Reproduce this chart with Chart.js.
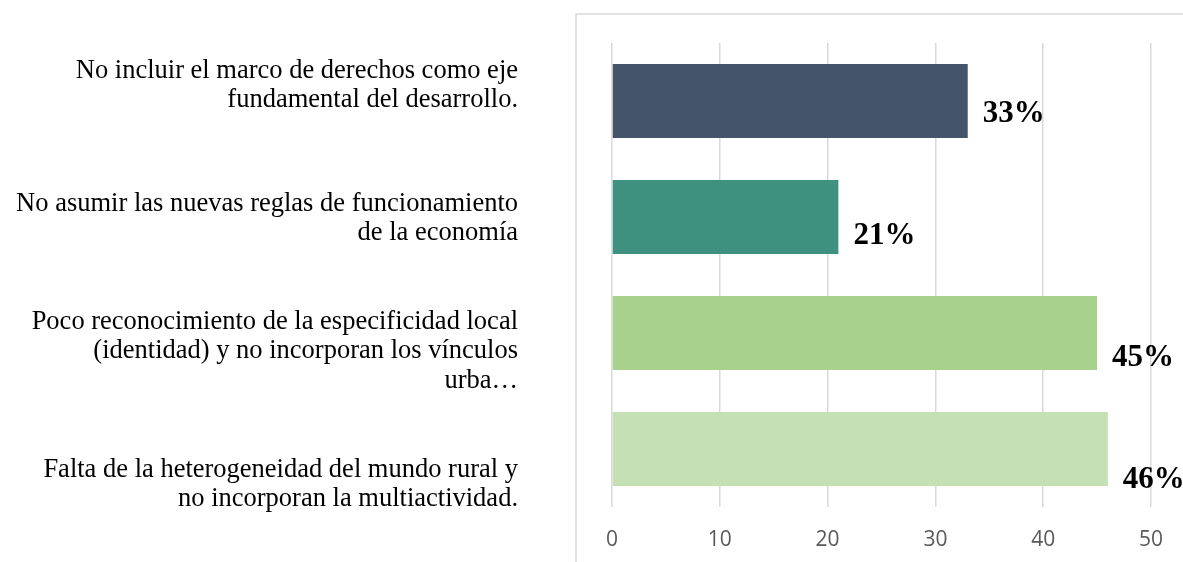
<!DOCTYPE html>
<html>
<head>
<meta charset="utf-8">
<script src="https://cdn.jsdelivr.net/npm/chart.js@4"></script>
<style>
    body { margin: 0; background: #fff; }
    #wrap { width: 1183px; height: 562px; }
</style>
</head>
<body>
<div id="wrap"><canvas id="barChart" width="1183" height="562"></canvas></div>
<script>
// categories (one array of lines per bar, top to bottom)
const categories = [
    ['No incluir el marco de derechos como eje', 'fundamental del desarrollo.'],
    ['No asumir las nuevas reglas de funcionamiento', 'de la economía'],
    ['Poco reconocimiento de la especificidad local', '(identidad) y no incorporan los vínculos', 'urba…'],
    ['Falta de la heterogeneidad del mundo rural y', 'no incorporan la multiactividad.']
];
const values = [33, 21, 45, 46];
const barColors = ['#44546A', '#3F917F', '#A9D18E', '#C5E0B4'];
const xTicks = [0, 10, 20, 30, 40, 50];

const serif = '"Liberation Serif", "Times New Roman", serif';

// light grey frame around the plot, open to the right and bottom like the original
const framePlugin = {
    id: 'frame',
    beforeDraw: (chart) => {
        const { ctx, chartArea } = chart;
        const left = chartArea.left - 36;
        const top = chartArea.top - 29;
        ctx.save();
        ctx.strokeStyle = '#d9d9d9';
        ctx.lineWidth = 1.5;
        ctx.beginPath();
        ctx.moveTo(left, chart.height + 2);
        ctx.lineTo(left, top);
        ctx.lineTo(chart.width + 2, top);
        ctx.stroke();
        ctx.restore();
    }
};

// category text on the left and bold percentages next to the bars
const labelsPlugin = {
    id: 'labels',
    afterDatasetsDraw: (chart) => {
        const { ctx } = chart;
        const meta = chart.getDatasetMeta(0);
        const n = meta.data.length;
        ctx.save();

        ctx.fillStyle = '#000';
        ctx.font = '26.5px ' + serif;
        ctx.textAlign = 'right';
        ctx.textBaseline = 'middle';
        const lineH = 29.3;
        meta.data.forEach((bar, i) => {
            const lines = categories[i];
            const mid = bar.y + 10 + (i - (n - 1) / 2) * 17;
            const start = mid - (lines.length - 1) * lineH / 2;
            lines.forEach((line, j) => {
                ctx.fillText(line, 518, start + j * lineH);
            });
        });

        ctx.font = 'bold 31px ' + serif;
        ctx.textAlign = 'left';
        ctx.textBaseline = 'alphabetic';
        meta.data.forEach((bar, i) => {
            const y = bar.y + 29.5 + (i - (n - 1) / 2) * 6;
            ctx.fillText(values[i] + '%', bar.x + 15, y);
        });
        ctx.restore();
    }
};

const makeChart = () => {
    const ctx = document.querySelector('#barChart').getContext('2d');
    new Chart(ctx, {
        type: 'bar',
        data: {
            labels: categories,
            datasets: [{
                data: values,
                backgroundColor: barColors,
                borderWidth: 0,
                categoryPercentage: 1,
                barPercentage: 0.638
            }]
        },
        options: {
            indexAxis: 'y',
            responsive: false,
            devicePixelRatio: 1,
            animation: false,
            layout: {
                padding: { left: 612, right: 31, top: 43, bottom: 0 }
            },
            plugins: {
                legend: { display: false },
                tooltip: { enabled: false }
            },
            scales: {
                x: {
                    min: xTicks[0],
                    max: xTicks[xTicks.length - 1],
                    afterBuildTicks: (axis) => {
                        axis.ticks = xTicks.map(v => ({ value: v }));
                    },
                    afterFit: (axis) => {
                        axis.height = 55;
                    },
                    grid: {
                        color: '#d9d9d9',
                        lineWidth: 1.5,
                        drawTicks: false
                    },
                    border: { display: false },
                    ticks: {
                        padding: 20,
                        color: '#595959',
                        font: { family: '"Open Sans", sans-serif', size: 21 }
                    }
                },
                y: {
                    display: false
                }
            }
        },
        plugins: [framePlugin, labelsPlugin]
    });
};

window.addEventListener('DOMContentLoaded', makeChart);
</script>
</body>
</html>
